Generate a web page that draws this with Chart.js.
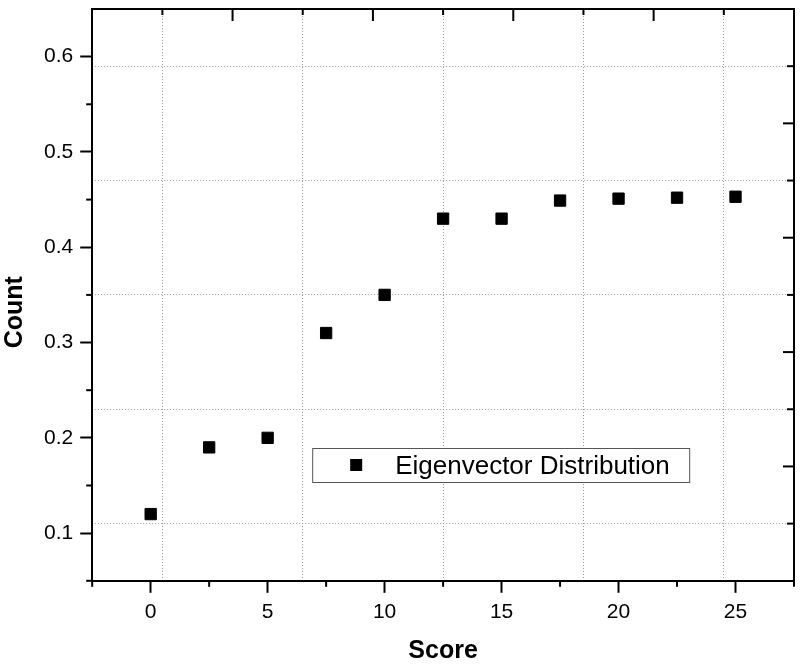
<!DOCTYPE html>
<html>
<head>
<meta charset="utf-8">
<script src="https://cdn.jsdelivr.net/npm/chart.js@4/dist/chart.umd.min.js"></script>
<style>
  html, body { margin: 0; padding: 0; background: #fff; }
  #wrap { width: 803px; height: 666px; }
</style>
</head>
<body>
<div id="wrap"><canvas id="scoreChart"></canvas></div>
<script>
const scores = [0, 2.5, 5, 7.5, 10, 12.5, 15, 17.5, 20, 22.5, 25];
const counts = [0.12, 0.19, 0.2, 0.31, 0.35, 0.43, 0.43, 0.449, 0.451, 0.452, 0.453];
const seriesLabel = "Eigenvector Distribution";

const xTicks = [0, 5, 10, 15, 20, 25];
const yTicks = [0.1, 0.2, 0.3, 0.4, 0.5, 0.6];
const xMinorTicks = [-2.5, 2.5, 7.5, 12.5, 17.5, 22.5, 27.5];
const yMinorTicks = [0.05, 0.15, 0.25, 0.35, 0.45, 0.55];

// the top / right frame ticks (and the dotted grid) sit offset from the bottom / left ones
const topTicks = [0.5, 3.5, 6.5, 9.5, 12.5, 15.5, 18.5, 21.5, 24.5];
const rightTicks = [0.11, 0.17, 0.23, 0.29, 0.35, 0.41, 0.47, 0.53, 0.59];
const topGrid = [0.5, 6.5, 12.5, 18.5, 24.5];
const rightGrid = [0.11, 0.23, 0.35, 0.47, 0.59];

Chart.defaults.font.family = "Arial, 'Liberation Sans', sans-serif";
Chart.defaults.color = "#000";

const setTicks = (values) => (scale) => {
  scale.ticks = values.map((v) => ({ value: v }));
};

// no extra room for labels hanging over the axis ends
const noOverhang = (scale) => {
  scale.paddingLeft = 0;
  scale.paddingRight = 0;
  scale.paddingTop = 0;
  scale.paddingBottom = 0;
};

const frameExtras = {
  id: "frameExtras",
  afterDraw(chart) {
    const { ctx, chartArea: a, scales } = chart;
    const line = (x1, y1, x2, y2) => {
      ctx.beginPath();
      ctx.moveTo(x1, y1);
      ctx.lineTo(x2, y2);
      ctx.stroke();
    };
    ctx.save();
    ctx.strokeStyle = "#000";
    ctx.lineWidth = 2;
    xMinorTicks.forEach((v) => {
      const px = scales.x.getPixelForValue(v);
      line(px, a.bottom, px, a.bottom + 6);
    });
    yMinorTicks.forEach((v) => {
      const py = scales.y.getPixelForValue(v);
      line(a.left - 6, py, a.left, py);
    });
    topTicks.forEach((v, i) => {
      const px = scales.x2.getPixelForValue(v);
      line(px, a.top, px, a.top + (i % 2 ? 12 : 6));
    });
    rightTicks.forEach((v, i) => {
      const py = scales.y2.getPixelForValue(v);
      line(a.right - (i % 2 ? 11 : 7), py, a.right, py);
    });

    // legend box inside the plot
    const lx = a.left + 220;
    const ly = a.top + 439;
    ctx.fillStyle = "#fff";
    ctx.fillRect(lx, ly, 377, 34);
    ctx.lineWidth = 1;
    ctx.strokeStyle = "#555";
    ctx.strokeRect(lx + 0.5, ly + 0.5, 377, 34);
    ctx.fillStyle = "#000";
    ctx.fillRect(lx + 38, ly + 11, 12, 12);
    ctx.font = "26px Arial, 'Liberation Sans', sans-serif";
    ctx.textBaseline = "alphabetic";
    ctx.fillText(seriesLabel, lx + 83, ly + 26);
    ctx.restore();
  },
};

const gridDotted = {
  drawTicks: false,
  color: "#9a9a9a",
  lineWidth: 1,
};

new Chart(document.getElementById("scoreChart"), {
  type: "scatter",
  data: {
    datasets: [
      {
        label: seriesLabel,
        data: scores.map((s, i) => ({ x: s, y: counts[i] })),
        pointStyle: "rect",
        pointRadius: 8,
        pointHoverRadius: 8,
        backgroundColor: "#000",
        borderColor: "#000",
        borderWidth: 1,
      },
    ],
  },
  options: {
    responsive: true,
    maintainAspectRatio: false,
    animation: false,
    layout: { padding: { top: 0, right: 2, left: 0, bottom: 0 } },
    plugins: {
      legend: { display: false },
      tooltip: { enabled: false },
    },
    scales: {
      x: {
        type: "linear",
        position: "bottom",
        min: -2.5,
        max: 27.5,
        afterBuildTicks: setTicks(xTicks),
        afterFit: noOverhang,
        ticks: {
          font: { size: 21 },
          padding: 7,
          maxRotation: 0,
          callback: (v) => String(v),
        },
        grid: {
          drawOnChartArea: false,
          tickLength: 12,
          tickWidth: 2,
          tickColor: "#000",
        },
        border: { color: "#000", width: 2 },
        title: {
          display: true,
          text: "Score",
          font: { size: 25, weight: "bold" },
          padding: { top: 4, bottom: 0 },
        },
      },
      y: {
        type: "linear",
        position: "left",
        min: 0.05,
        max: 0.65,
        afterBuildTicks: setTicks(yTicks),
        afterFit: noOverhang,
        ticks: {
          font: { size: 21 },
          padding: 7,
          callback: (v) => v.toFixed(1),
        },
        grid: {
          drawOnChartArea: false,
          tickLength: 12,
          tickWidth: 2,
          tickColor: "#000",
        },
        border: { color: "#000", width: 2 },
        title: {
          display: true,
          text: "Count     ",
          font: { size: 25, weight: "bold" },
          padding: { top: 0, bottom: 7 },
        },
      },
      x2: {
        type: "linear",
        position: "top",
        min: -2.5,
        max: 27.5,
        afterBuildTicks: setTicks(topGrid),
        afterFit: noOverhang,
        ticks: { display: false },
        grid: gridDotted,
        border: { color: "#000", width: 2, dash: [1, 2] },
      },
      y2: {
        type: "linear",
        position: "right",
        min: 0.05,
        max: 0.65,
        afterBuildTicks: setTicks(rightGrid),
        afterFit: noOverhang,
        ticks: { display: false },
        grid: gridDotted,
        border: { color: "#000", width: 2, dash: [1, 2] },
      },
    },
  },
  plugins: [frameExtras],
});
</script>
</body>
</html>
